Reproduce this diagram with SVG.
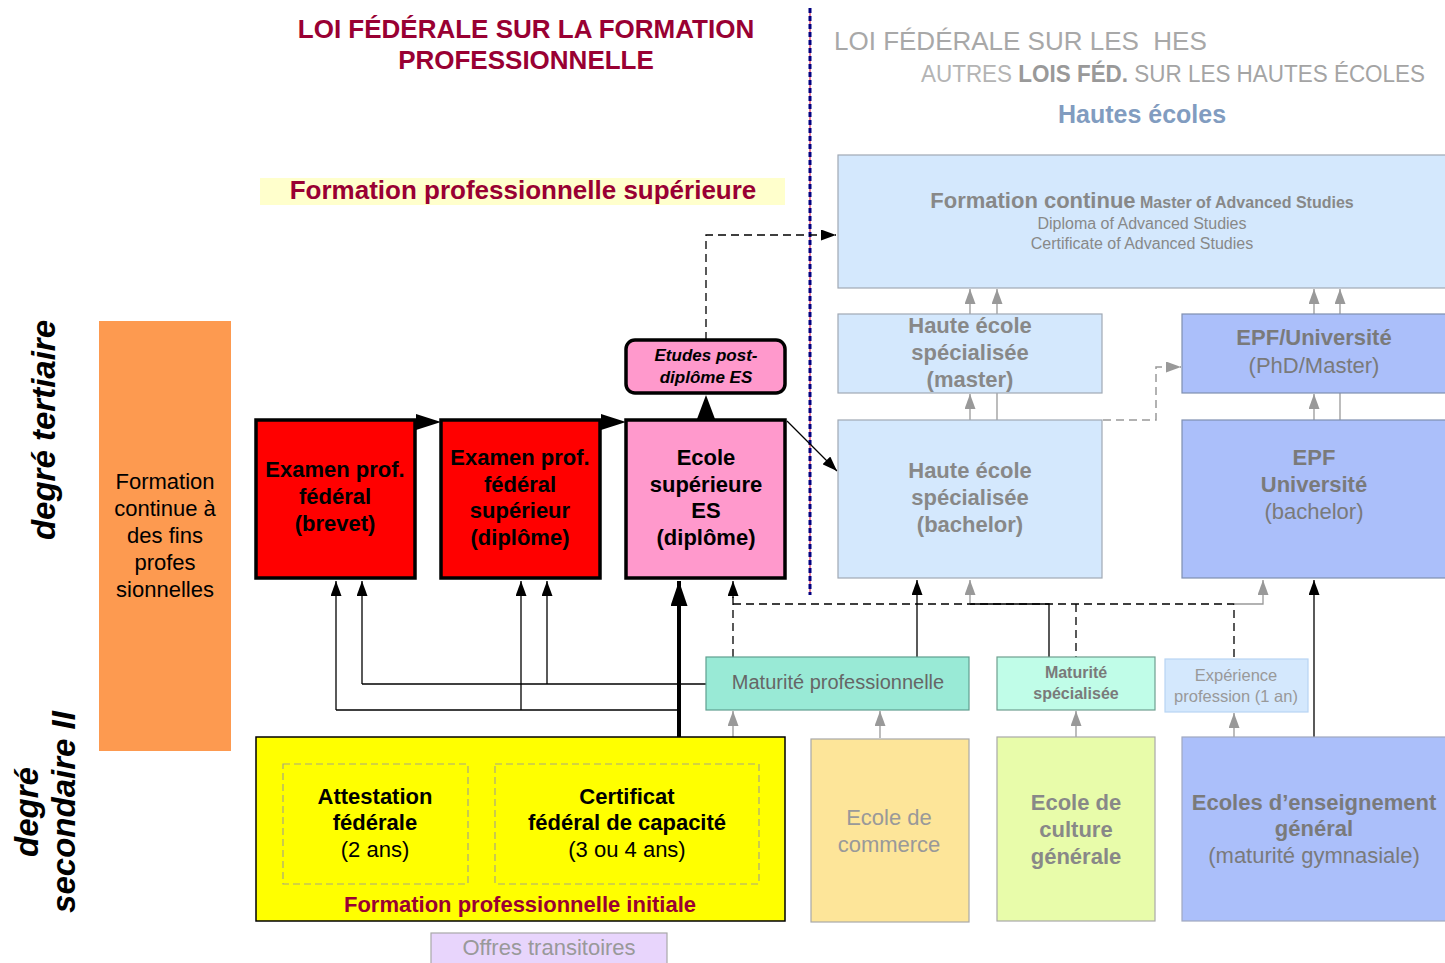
<svg xmlns="http://www.w3.org/2000/svg" width="1445" height="963" viewBox="0 0 1445 963">
<defs>
<style>
text{font-family:"Liberation Sans",Arial,sans-serif;font-size:22px;text-anchor:middle}
.b{font-weight:bold}
.it{font-style:italic}
.red{fill:#990033}
.blk{fill:#000}
.gr{fill:#888}
.gr2{fill:#7a7a7a}
.gr3{fill:#999}
.lt{fill:#a8a8a8}
.he{fill:#d4e8fd;stroke:#a0a8b4;stroke-width:1.2}
.epf{fill:#abbffa;stroke:#7f8fb0;stroke-width:1.2}
.rb{fill:#ff0000;stroke:#000;stroke-width:3.5}
.pk{fill:#ff99cc;stroke:#000;stroke-width:3.5}
.cs{fill:none;stroke:#000;stroke-width:1.3}
.cg{fill:none;stroke:#999;stroke-width:1.3}
.cd{fill:none;stroke:#000;stroke-width:1.3;stroke-dasharray:8 5}
.cgd{fill:none;stroke:#999;stroke-width:1.5;stroke-dasharray:8 5}
.inner{fill:none;stroke:#a8a880;stroke-width:1.2;stroke-dasharray:7 4}
</style>
<marker id="ab" viewBox="0 0 15 11" refX="15" refY="5.5" markerWidth="15" markerHeight="11" markerUnits="userSpaceOnUse" orient="auto"><path d="M0,0 L15,5.5 L0,11 z" fill="#000"/></marker>
<marker id="ag" viewBox="0 0 15 11" refX="15" refY="5.5" markerWidth="15" markerHeight="11" markerUnits="userSpaceOnUse" orient="auto"><path d="M0,0 L15,5.5 L0,11 z" fill="#999"/></marker>
<marker id="abig" viewBox="0 0 25 17" refX="25" refY="8.5" markerWidth="25" markerHeight="17" markerUnits="userSpaceOnUse" orient="auto"><path d="M0,0 L25,8.5 L0,17 z" fill="#000"/></marker>
</defs>
<rect width="1445" height="963" fill="#fff"/>

<g id="titles">
<text x="526" y="38" class="b red" style="font-size:26px">LOI FÉDÉRALE SUR LA FORMATION</text>
<text x="526" y="69" class="b red" style="font-size:26px">PROFESSIONNELLE</text>
<rect x="260" y="178" width="525" height="27" fill="#ffffcc"/>
<text x="523" y="199" class="b red" style="font-size:26px">Formation professionnelle supérieure</text>
<text x="834" y="50" class="lt" style="font-size:26px;text-anchor:start" xml:space="preserve">LOI FÉDÉRALE SUR LES  HES</text>
<text x="921" y="82" style="font-size:23px;text-anchor:start" textLength="504" lengthAdjust="spacingAndGlyphs"><tspan fill="#b4b4b4">AUTRES </tspan><tspan fill="#999" font-weight="bold">LOIS FÉD.</tspan><tspan fill="#a4a4a4"> SUR LES HAUTES ÉCOLES</tspan></text>
<text x="1142" y="123" class="b" fill="#819cc0" style="font-size:25px">Hautes écoles</text>
</g>

<g id="side-labels">
<text transform="translate(55,430) rotate(-90)" class="b it blk" style="font-size:33px">degré tertiaire</text>
<text transform="translate(38,812) rotate(-90)" class="b it blk" style="font-size:33px">degré</text>
<text transform="translate(75,812) rotate(-90)" class="b it blk" style="font-size:33px">secondaire II</text>
</g>

<g id="divider">
<line x1="810" y1="8" x2="810" y2="595" stroke="#cc0033" stroke-width="1"/>
<line x1="810" y1="8" x2="810" y2="595" stroke="#000080" stroke-width="3" stroke-dasharray="5 3"/>
</g>

<g id="connectors">
<path class="cs" d="M336,710 V581" marker-end="url(#ab)"/>
<path class="cs" d="M362,684 V581" marker-end="url(#ab)"/>
<path class="cs" d="M521,710 V581" marker-end="url(#ab)"/>
<path class="cs" d="M547,684 V581" marker-end="url(#ab)"/>
<path class="cs" d="M336,710 H679"/>
<path class="cs" d="M362,684 H706"/>
<path d="M679,764 V581" fill="none" stroke="#000" stroke-width="4" marker-end="url(#abig)"/>
<path class="cs" d="M917,657 V580" marker-end="url(#ab)"/>
<path class="cs" d="M1049,657 V604 H970"/>
<path class="cg" d="M970,604 V580" marker-end="url(#ag)"/>
<path class="cs" d="M1314,737 V580" marker-end="url(#ab)"/>
<path class="cs" d="M787,421 L837,471" marker-end="url(#ab)"/>
<path class="cd" d="M733,657 V597"/>
<path class="cs" d="M733,598 V581" marker-end="url(#ab)"/>
<path class="cd" d="M733,604 H1234 V659"/>
<path class="cd" d="M1076,604 V657"/>
<path class="cg" d="M1234,604 H1263 V580" marker-end="url(#ag)"/>
<path class="cd" d="M706,340 V235 H836" marker-end="url(#ab)"/>
<path class="cgd" d="M1103,420 H1156 V367 H1181" marker-end="url(#ag)"/>
<path class="cg" d="M970,314 V289" marker-end="url(#ag)"/>
<path class="cg" d="M997,420 V289" marker-end="url(#ag)"/>
<path class="cg" d="M970,420 V394" marker-end="url(#ag)"/>
<path class="cg" d="M1314,314 V289" marker-end="url(#ag)"/>
<path class="cg" d="M1340,420 V289" marker-end="url(#ag)"/>
<path class="cg" d="M1314,420 V394" marker-end="url(#ag)"/>
<path class="cg" d="M733,764 V711" marker-end="url(#ag)"/>
<path class="cg" d="M880,738 V711" marker-end="url(#ag)"/>
<path class="cg" d="M1076,737 V711" marker-end="url(#ag)"/>
<path class="cg" d="M1234,737 V713" marker-end="url(#ag)"/>
<polygon points="416,414 441,422 416,430" fill="#000"/>
<polygon points="601,414 626,422 601,430" fill="#000"/>
<polygon points="706,395 715,419 697,419" fill="#000"/>
</g>

<g id="formation-continue-pro">
<rect x="99" y="321" width="132" height="430" fill="#fd9a50"/>
<text x="165" y="489" class="blk">Formation</text>
<text x="165" y="516" class="blk">continue à</text>
<text x="165" y="543" class="blk">des fins</text>
<text x="165" y="570" class="blk">profes</text>
<text x="165" y="597" class="blk">sionnelles</text>
</g>

<g id="examen-brevet">
<rect x="256" y="420" width="159" height="158" class="rb"/>
<text x="335" y="477" class="b blk">Examen prof.</text>
<text x="335" y="504" class="b blk">fédéral</text>
<text x="335" y="531" class="b blk">(brevet)</text>
</g>

<g id="examen-diplome">
<rect x="441" y="420" width="159" height="158" class="rb"/>
<text x="520" y="465" class="b blk">Examen prof.</text>
<text x="520" y="492" class="b blk">fédéral</text>
<text x="520" y="518" class="b blk">supérieur</text>
<text x="520" y="545" class="b blk">(diplôme)</text>
</g>

<g id="ecole-superieure">
<rect x="626" y="420" width="159" height="158" class="pk"/>
<text x="706" y="465" class="b blk">Ecole</text>
<text x="706" y="492" class="b blk">supérieure</text>
<text x="706" y="518" class="b blk">ES</text>
<text x="706" y="545" class="b blk">(diplôme)</text>
</g>

<g id="etudes-post-diplome">
<rect x="626" y="340" width="159" height="53" rx="9" class="pk"/>
<text x="706" y="361" class="b it blk" style="font-size:17px">Etudes post-</text>
<text x="706" y="383" class="b it blk" style="font-size:17px">diplôme ES</text>
</g>

<g id="formation-continue-hes">
<rect x="838" y="155" width="612" height="133" class="he"/>
<text x="1142" y="208" class="gr"><tspan class="b">Formation continue</tspan><tspan class="b" style="font-size:16px"> Master of Advanced Studies</tspan></text>
<text x="1142" y="229" class="gr" style="font-size:16px">Diploma of Advanced Studies</text>
<text x="1142" y="249" class="gr" style="font-size:16px">Certificate of Advanced Studies</text>
</g>

<g id="hes-master">
<rect x="838" y="314" width="264" height="79" class="he"/>
<text x="970" y="333" class="b gr">Haute école</text>
<text x="970" y="360" class="b gr">spécialisée</text>
<text x="970" y="387" class="b gr">(master)</text>
</g>

<g id="epf-master">
<rect x="1182" y="314" width="268" height="79" class="epf"/>
<text x="1314" y="345" class="b gr2">EPF/Université</text>
<text x="1314" y="373" class="gr2">(PhD/Master)</text>
</g>

<g id="hes-bachelor">
<rect x="838" y="420" width="264" height="158" class="he"/>
<text x="970" y="478" class="b gr">Haute école</text>
<text x="970" y="505" class="b gr">spécialisée</text>
<text x="970" y="532" class="b gr">(bachelor)</text>
</g>

<g id="epf-bachelor">
<rect x="1182" y="420" width="268" height="158" class="epf"/>
<text x="1314" y="465" class="b gr2">EPF</text>
<text x="1314" y="492" class="b gr2">Université</text>
<text x="1314" y="519" class="gr2">(bachelor)</text>
</g>

<g id="maturite-pro">
<rect x="706" y="657" width="263" height="53" fill="#99ead6" stroke="#5f9f8f" stroke-width="1.2"/>
<text x="838" y="689" fill="#666" style="font-size:20px">Maturité professionnelle</text>
</g>

<g id="maturite-spec">
<rect x="997" y="657" width="158" height="53" fill="#c0fde8" stroke="#6f9f8f" stroke-width="1.2"/>
<text x="1076" y="678" class="b" fill="#7a7a7a" style="font-size:16px">Maturité</text>
<text x="1076" y="699" class="b" fill="#7a7a7a" style="font-size:16px">spécialisée</text>
</g>

<g id="experience">
<rect x="1165" y="659" width="143" height="53" fill="#d4e8fd" stroke="#b8d4f4" stroke-width="1.2"/>
<text x="1236" y="681" class="gr3" style="font-size:16.5px">Expérience</text>
<text x="1236" y="702" class="gr3" style="font-size:16.5px">profession (1 an)</text>
</g>

<g id="formation-initiale">
<rect x="256" y="737" width="529" height="184" fill="#ffff00" stroke="#000" stroke-width="1.5"/>
<rect x="283" y="764" width="185" height="120" class="inner"/>
<rect x="495" y="764" width="264" height="120" class="inner"/>
<text x="375" y="804" class="b blk">Attestation</text>
<text x="375" y="830" class="b blk">fédérale</text>
<text x="375" y="857" class="blk">(2 ans)</text>
<text x="627" y="804" class="b blk">Certificat</text>
<text x="627" y="830" class="b blk">fédéral de capacité</text>
<text x="627" y="857" class="blk">(3 ou 4 ans)</text>
<text x="520" y="912" class="b red">Formation professionnelle initiale</text>
</g>

<g id="offres-transitoires">
<rect x="431" y="933" width="236" height="34" fill="#e8d5fc" stroke="#a8a8a8" stroke-width="1.2"/>
<text x="549" y="955" class="gr3">Offres transitoires</text>
</g>

<g id="ecole-commerce">
<rect x="811" y="739" width="158" height="183" fill="#fde599" stroke="#a8a8a8" stroke-width="1.2"/>
<text x="889" y="825" class="gr3">Ecole de</text>
<text x="889" y="852" class="gr3">commerce</text>
</g>

<g id="ecole-culture">
<rect x="997" y="737" width="158" height="184" fill="#e8fcaa" stroke="#a8a8a8" stroke-width="1.2"/>
<text x="1076" y="810" class="b gr">Ecole de</text>
<text x="1076" y="837" class="b gr">culture</text>
<text x="1076" y="864" class="b gr">générale</text>
</g>

<g id="ecoles-enseignement">
<rect x="1182" y="737" width="268" height="184" fill="#abbffa" stroke="#a0a8c0" stroke-width="1.2"/>
<text x="1314" y="810" class="b gr2">Ecoles d’enseignement</text>
<text x="1314" y="836" class="b gr2">général</text>
<text x="1314" y="863" class="gr2">(maturité gymnasiale)</text>
</g>
</svg>
